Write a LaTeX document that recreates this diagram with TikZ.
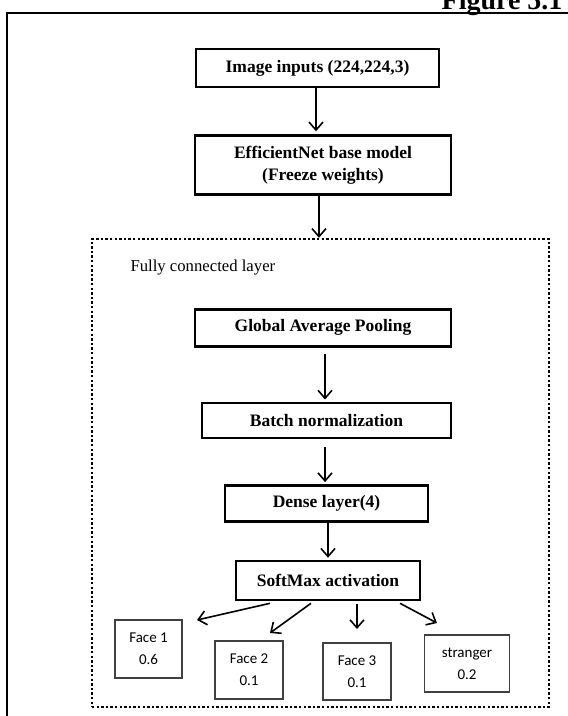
\documentclass[tikz,border=0pt]{standalone}
\usepackage{fontspec}
\setmainfont{Liberation Serif}
\newfontfamily\facefont{Carlito}
\usepackage{tikz}
\usetikzlibrary{arrows.meta,positioning}
\tikzset{
  flowbox/.style={
    rectangle, draw=black, line width=2.6pt, inner sep=0pt,
    minimum height=#1, align=center,
    font=\fontsize{17.5}{22}\selectfont\bfseries
  },
  flowbox/.default=37pt,
  facebox/.style={
    rectangle, draw=black!75, line width=1.3pt, inner sep=0pt,
    minimum width=68pt, minimum height=58pt, align=center,
    font=\facefont\fontsize{15}{22}\selectfont
  },
  fcframe/.style={
    rectangle, draw=black, line width=2.4pt, dash pattern=on 2.4pt off 2.2pt
  },
  flowarrow/.style={-{Straight Barb[length=8pt,width=14pt]}, line width=1.6pt}
}
\begin{document}
\begin{tikzpicture}[x=1pt,y=-1pt]
\useasboundingbox (0,0) rectangle (568,716);
% page frame and caption
\draw[line width=2pt] (7,722) -- (7,12.5) -- (574,12.5);
\node[anchor=base east, font=\fontsize{28}{30}\selectfont\bfseries] (caption) at (566,9) {Figure 5.1};

\node[fcframe, minimum width=457pt, minimum height=468pt] (fc) at (320.5,473) {};
\node[anchor=west, font=\fontsize{16.7}{20}\selectfont] (fclabel) at (127,268) {Fully connected layer};

\node[flowbox=38pt, minimum width=243pt] (img) at (317.5,68) {Image inputs (224,224,3)};
\node[flowbox=59pt, minimum width=256pt, below=46pt of img, xshift=5.5pt] (eff) {EfficientNet base model\\(Freeze weights)};
\node[flowbox=37pt, minimum width=256pt, below=112pt of eff] (gap) {Global Average Pooling};
\node[flowbox=35pt, minimum width=249pt, below=54pt of gap, xshift=3.5pt] (batch) {Batch normalization};
\node[flowbox=36pt, minimum width=203pt, below=45pt of batch] (dense) {Dense layer(4)};
\node[flowbox=39pt, minimum width=184pt, below=37pt of dense, xshift=1.5pt] (soft) {SoftMax activation};

\node[facebox, minimum width=67pt] (face1) at (148.5,649) {Face 1\\0.6};
\node[facebox] (face2) at (249,670) {Face 2\\0.1};
\node[facebox, minimum height=57pt] (face3) at (357,671.5) {Face 3\\0.1};
\node[facebox, minimum width=85pt, minimum height=57pt] (strng) at (467,663.5) {stranger\\0.2};

\coordinate (tip1) at (197,620);
\coordinate (tip2) at (270,633);
\coordinate (tip3) at (357,629);
\coordinate (tip4) at (437,623);

\draw[flowarrow, shorten >=3pt] ([xshift=-1.5pt]img.south) -- ([xshift=-1.5pt]img.south |- eff.north);
\draw[flowarrow] ([xshift=-4pt]eff.south) -- ([xshift=-4pt]eff.south |- fc.north);
\draw[flowarrow, shorten <=6pt, shorten >=2pt] ([xshift=2pt]gap.south) -- ([xshift=2pt]gap.south |- batch.north);
\draw[flowarrow, shorten <=8pt, shorten >=2pt] ([xshift=-1.5pt]batch.south) -- ([xshift=-1.5pt]batch.south |- dense.north);
\draw[flowarrow, shorten >=2pt] ([xshift=1.5pt]dense.south) -- ([xshift=1.5pt]dense.south |- soft.north);

\draw[flowarrow] ([xshift=-58pt,yshift=-2pt]soft.south) -- (tip1);
\draw[flowarrow] ([xshift=-17pt,yshift=-2pt]soft.south) -- (tip2);
\draw[flowarrow] ([xshift=29pt,yshift=-3pt]soft.south) -- (tip3);
\draw[flowarrow] ([xshift=72pt,yshift=-2pt]soft.south) -- (tip4);
\end{tikzpicture}
\end{document}
